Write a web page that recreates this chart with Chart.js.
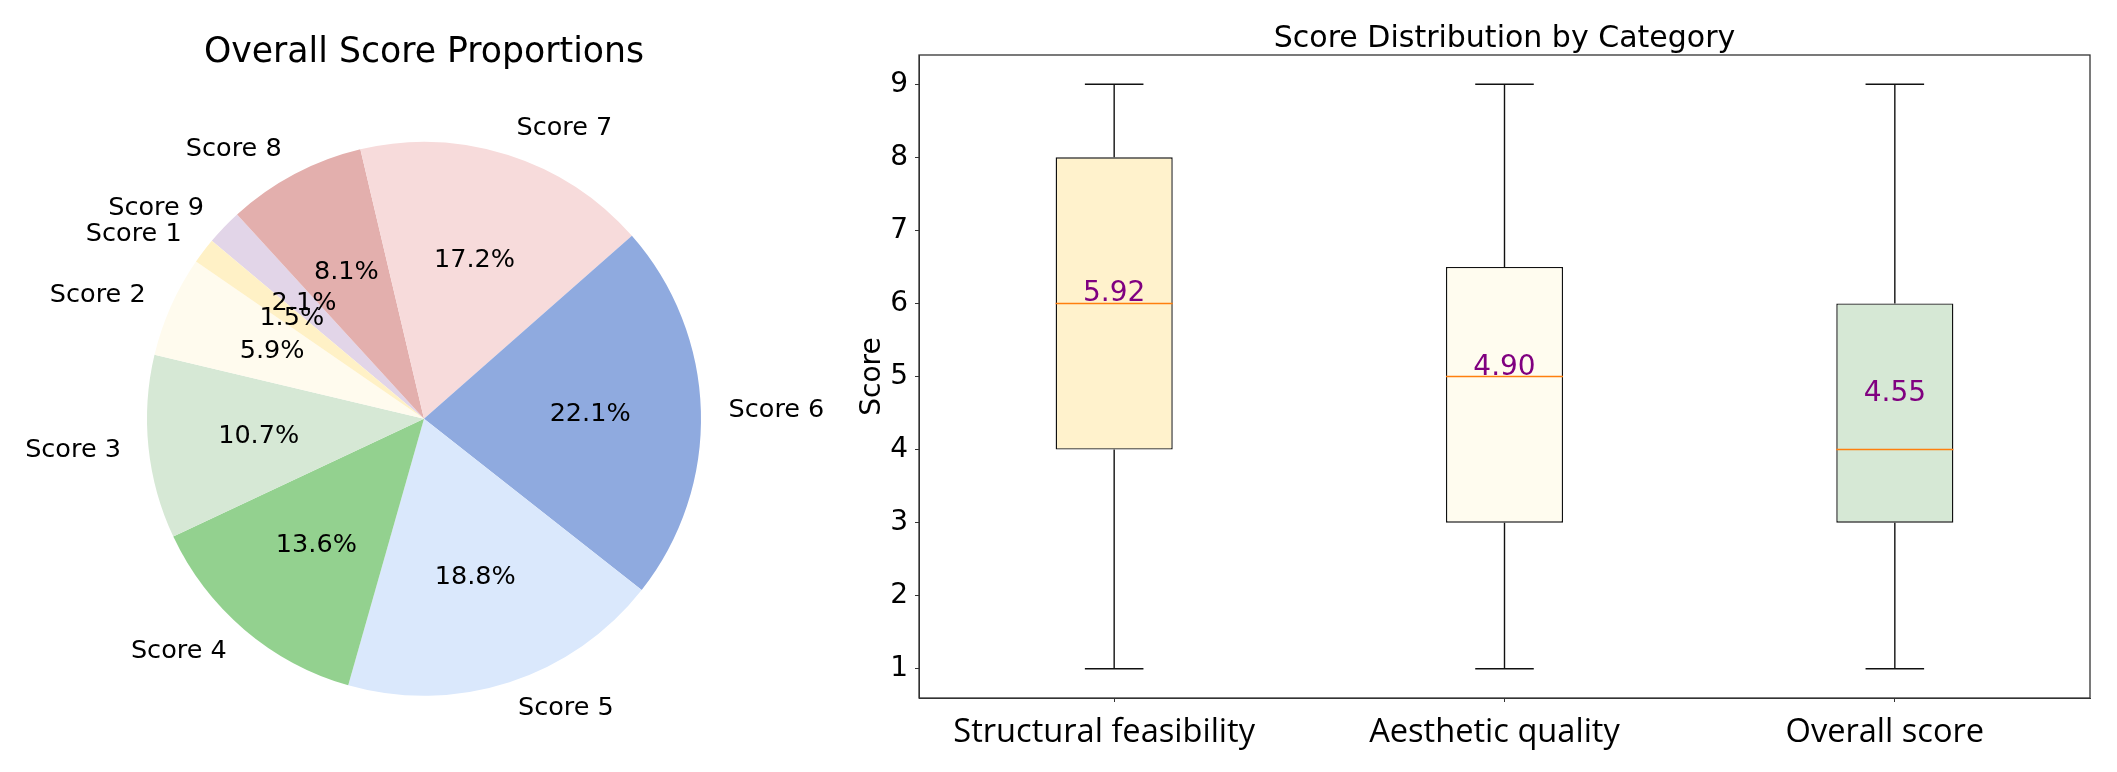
<!DOCTYPE html>
<html>
<head>
<meta charset="utf-8">
<script src="https://cdn.jsdelivr.net/npm/chart.js@4.4.1/dist/chart.umd.min.js"></script>
<style>
  body { margin: 0; background: #fff; }
  #pieBox { position: absolute; left: 0; top: 0; width: 850px; height: 772px; }
  #boxBox { position: absolute; left: 850px; top: 0; width: 1267px; height: 772px; }
</style>
</head>
<body>
<div id="pieBox"><canvas id="pieChart"></canvas></div>
<div id="boxBox"><canvas id="boxChart"></canvas></div>
<script>
// pie: share of each overall score (percent)
const scoreLabels = ['Score 1', 'Score 2', 'Score 3', 'Score 4', 'Score 5', 'Score 6', 'Score 7', 'Score 8', 'Score 9'];
const scoreShares = [1.5, 5.9, 10.7, 13.6, 18.8, 22.1, 17.2, 8.1, 2.1];
const scoreColors = ['#FFF1C6', '#FFFBEE', '#D6E8D5', '#93D18F', '#DAE8FC', '#8FAADF', '#F7DBDB', '#E3AFAD', '#E2D5E8'];

// box plot: five-number summary + mean per category
const categories = ['Structural feasibility', 'Aesthetic quality', 'Overall score'];
const mins = [1, 1, 1];
const q1s = [4, 3, 3];
const medians = [6, 5, 4];
const q3s = [8, 6.5, 6];
const maxs = [9, 9, 9];
const means = [5.92, 4.90, 4.55];
const boxColors = ['#FFF2CC', '#FFFCEF', '#D6E8D5'];
const yTicks = [1, 2, 3, 4, 5, 6, 7, 8, 9];

Chart.defaults.font.family = '"DejaVu Sans"';
Chart.defaults.color = '#000';

// labels outside the slices and percentages inside, like matplotlib's pie
const pieText = {
  id: 'pieText',
  afterDatasetsDraw(chart) {
    const ctx = chart.ctx;
    const arcs = chart.getDatasetMeta(0).data;
    const vals = chart.data.datasets[0].data;
    ctx.save();
    ctx.font = '25.5px "DejaVu Sans"';
    ctx.fillStyle = '#000';
    ctx.textBaseline = 'middle';
    arcs.forEach((arc, i) => {
      const mid = (arc.startAngle + arc.endAngle) / 2;
      const cos = Math.cos(mid), sin = Math.sin(mid);
      const r = arc.outerRadius;
      ctx.textAlign = cos > 0 ? 'left' : 'right';
      ctx.fillText(chart.data.labels[i], arc.x + 1.1 * r * cos, arc.y + 1.1 * r * sin);
      ctx.textAlign = 'center';
      ctx.fillText(vals[i].toFixed(1) + '%', arc.x + 0.6 * r * cos, arc.y + 0.6 * r * sin);
    });
    ctx.restore();
  }
};

// matplotlib goes counter-clockwise, Chart.js clockwise: feed it reversed
new Chart(document.getElementById('pieChart'), {
  type: 'pie',
  data: {
    labels: scoreLabels.slice().reverse(),
    datasets: [{
      data: scoreShares.slice().reverse(),
      backgroundColor: scoreColors.slice().reverse(),
      borderWidth: 0,
      hoverOffset: 0
    }]
  },
  options: {
    responsive: true,
    maintainAspectRatio: false,
    animation: false,
    events: [],
    rotation: -50,
    layout: { padding: { left: 147, right: 149, top: 0, bottom: 76 } },
    plugins: {
      legend: { display: false },
      tooltip: { enabled: false },
      title: {
        display: true,
        fullSize: false,
        text: 'Overall Score Proportions',
        color: '#000',
        font: { size: 34.7, weight: 'normal', family: '"DejaVu Sans"' },
        padding: { top: 32, bottom: 68 }
      }
    }
  },
  plugins: [pieText]
});

// whiskers, caps, medians, mean labels and the full frame
const boxParts = {
  id: 'boxParts',
  afterDatasetsDraw(chart) {
    const { ctx, chartArea, scales: { x, y } } = chart;
    const bars = chart.getDatasetMeta(0).data;
    ctx.save();
    categories.forEach((c, i) => {
      const cx = x.getPixelForValue(i);
      const half = bars[i].width / 2;
      const capHalf = half / 2;
      const yMin = y.getPixelForValue(mins[i]);
      const yMax = y.getPixelForValue(maxs[i]);
      ctx.strokeStyle = '#111';
      ctx.lineWidth = 1.4;
      ctx.beginPath();
      ctx.moveTo(cx, y.getPixelForValue(q1s[i]));
      ctx.lineTo(cx, yMin);
      ctx.moveTo(cx, y.getPixelForValue(q3s[i]));
      ctx.lineTo(cx, yMax);
      ctx.moveTo(cx - capHalf, yMin);
      ctx.lineTo(cx + capHalf, yMin);
      ctx.moveTo(cx - capHalf, yMax);
      ctx.lineTo(cx + capHalf, yMax);
      ctx.stroke();

      const yMed = y.getPixelForValue(medians[i]);
      ctx.strokeStyle = '#FF7F0E';
      ctx.lineWidth = 1.6;
      ctx.beginPath();
      ctx.moveTo(cx - half, yMed);
      ctx.lineTo(cx + half, yMed);
      ctx.stroke();

      ctx.fillStyle = '#800080';
      ctx.font = '28px "DejaVu Sans"';
      ctx.textAlign = 'center';
      ctx.textBaseline = 'alphabetic';
      ctx.fillText(means[i].toFixed(2), cx, y.getPixelForValue(means[i]) - 8.5);
    });
    ctx.strokeStyle = '#333';
    ctx.lineWidth = 1.3;
    ctx.strokeRect(chartArea.left, chartArea.top, chartArea.width, chartArea.height);
    ctx.restore();
  }
};

new Chart(document.getElementById('boxChart'), {
  type: 'bar',
  data: {
    labels: categories,
    datasets: [{
      data: categories.map((c, i) => [q1s[i], q3s[i]]),
      backgroundColor: boxColors,
      borderColor: '#111',
      borderWidth: 1.4,
      borderSkipped: false,
      barPercentage: 0.3,
      categoryPercentage: 1
    }]
  },
  options: {
    responsive: true,
    maintainAspectRatio: false,
    animation: false,
    events: [],
    layout: { padding: { left: 0, right: 27, top: 0, bottom: 0 } },
    plugins: {
      legend: { display: false },
      tooltip: { enabled: false },
      title: {
        display: true,
        fullSize: false,
        text: 'Score Distribution by Category',
        color: '#000',
        font: { size: 30, weight: 'normal', family: '"DejaVu Sans"', lineHeight: 1 },
        padding: { top: 24, bottom: 1 }
      }
    },
    scales: {
      x: {
        offset: true,
        grid: { drawOnChartArea: false, offset: false, tickLength: 4, color: '#333' },
        border: { color: '#333' },
        ticks: { color: '#000', padding: 11, labelOffset: -10, font: { size: 32.6, family: '"Open Sans"' } },
        afterFit(axis) { axis.height = 74; }
      },
      y: {
        min: 0.6,
        max: 9.4,
        afterBuildTicks(axis) { axis.ticks = yTicks.map(v => ({ value: v })); },
        grid: { drawOnChartArea: false, tickLength: 4, color: '#333' },
        border: { color: '#333' },
        ticks: { color: '#000', padding: 7, font: { size: 28, family: '"DejaVu Sans"' } },
        title: {
          display: true,
          text: 'Score',
          color: '#000',
          font: { size: 28, family: '"DejaVu Sans"' },
          padding: { top: 6, bottom: 0 }
        },
        afterFit(axis) { axis.width = 69; }
      }
    }
  },
  plugins: [boxParts]
});
</script>
</body>
</html>
